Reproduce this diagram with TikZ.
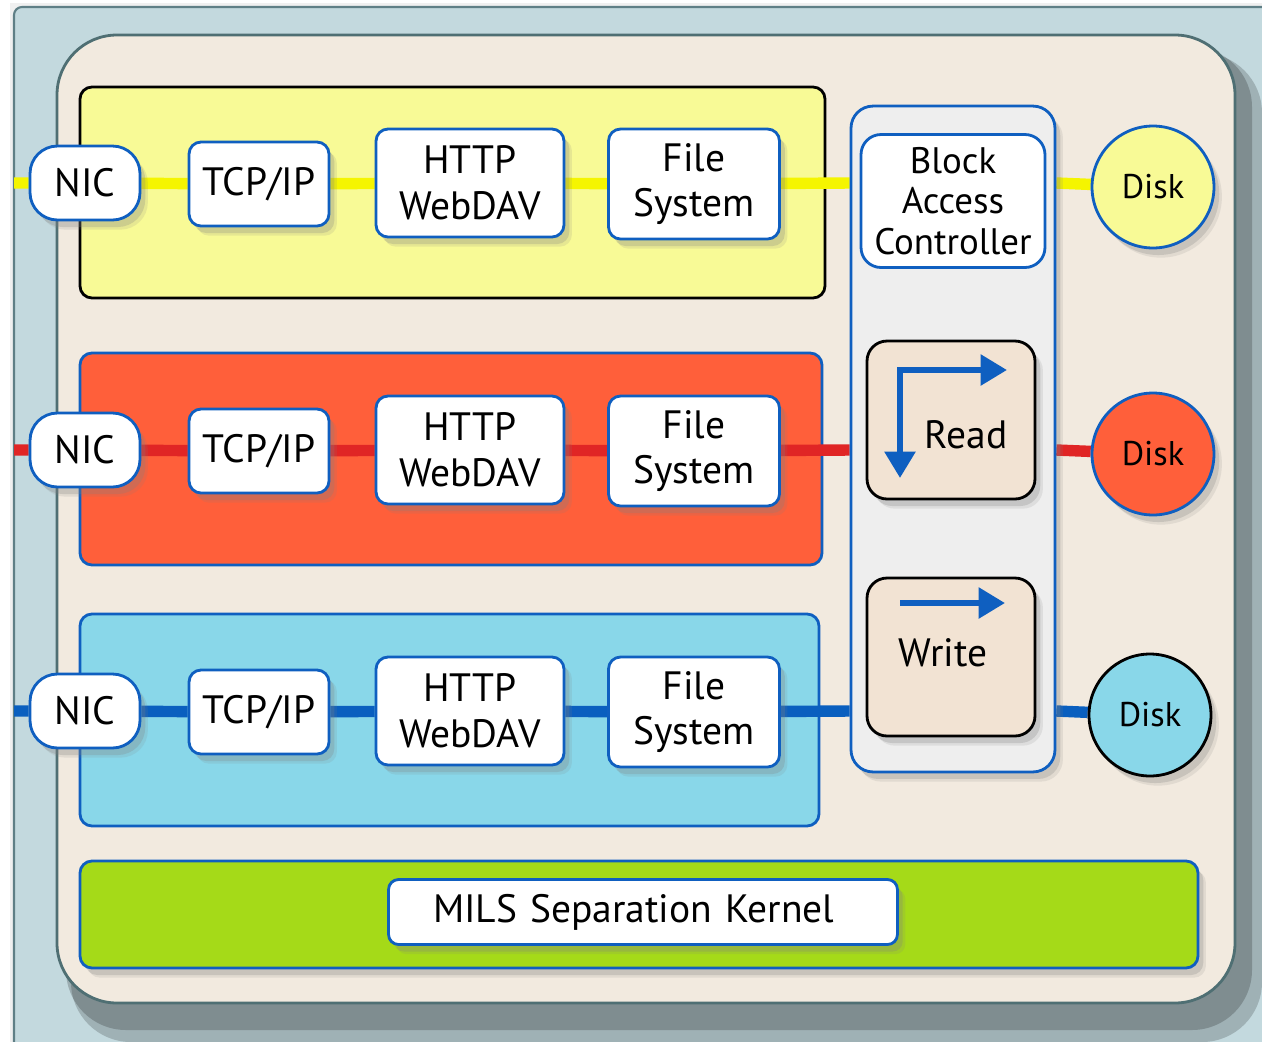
\documentclass[tikz,border=0pt]{standalone}
\usepackage{fontspec}
\setmainfont{PT Sans}
\usetikzlibrary{positioning, shapes, arrows.meta, shadows}

\definecolor{outerfill}{HTML}{C3D9DE}
\definecolor{outeredge}{HTML}{5F7F86}
\definecolor{beige}{HTML}{F2EADF}
\definecolor{beigeedge}{HTML}{4F6F73}
\definecolor{kblue}{HTML}{0F5FC0}
\definecolor{rowyellow}{HTML}{F8FA96}
\definecolor{rowred}{HTML}{FF5F3A}
\definecolor{rowcyan}{HTML}{89D7E9}
\definecolor{rowgreen}{HTML}{A5DA18}
\definecolor{ctrlgray}{HTML}{EEEEEE}
\definecolor{opfill}{HTML}{F2E3D3}
\definecolor{wireyellow}{HTML}{F5F500}
\definecolor{wirered}{HTML}{E02525}
\definecolor{wireblue}{HTML}{0A5FBF}

\pgfdeclarelayer{bg}
\pgfdeclarelayer{wires}
\pgfsetlayers{bg,wires,main}

\tikzset{
    softshadow/.style={
        drop shadow={shadow xshift=4.5pt, shadow yshift=-5.5pt, opacity=0.15},
        drop shadow={shadow xshift=3pt, shadow yshift=-4pt, opacity=0.25}},
    card/.style={draw=kblue, fill=white, line width=1.6pt,
        rounded corners=0.24cm, align=center, inner sep=0pt,
        font=\fontsize{22.5}{26}\selectfont, softshadow},
    nic/.style={card, rounded corners=0.55cm,
        minimum width=2.2cm, minimum height=1.48cm},
    tcp/.style={card, minimum width=2.8cm, minimum height=1.68cm},
    http/.style={card, minimum width=3.76cm, minimum height=2.16cm},
    fsys/.style={card, minimum width=3.42cm, minimum height=2.2cm},
    opbox/.style={draw=black, fill=opfill, line width=1.6pt,
        rounded corners=0.4cm, minimum width=3.36cm, minimum height=3.16cm,
        softshadow},
    disk/.style={circle, draw=kblue, line width=1.6pt, minimum size=2.44cm,
        inner sep=0pt, font=\fontsize{19.5}{22}\selectfont, softshadow},
    rowbox/.style={line width=1.6pt, rounded corners=0.24cm},
    wire/.style={line width=6.5pt},
    optip/.style={draw=kblue, line width=3.4pt,
        arrows={-{Triangle[length=15pt, width=17pt]}}},
}

\begin{document}
\begin{tikzpicture}[x=0.02cm, y=-0.02cm]
    \useasboundingbox (0,0) rectangle (1262,1042);

    \begin{pgfonlayer}{bg}
    \fill[white] (0,0) rectangle (1262,1042);
    \fill[black, opacity=0.06] (10,3) rectangle (1262,1042);
    \draw[fill=outerfill, draw=outeredge, line width=1.2pt,
        rounded corners=0.16cm]
        (14,7) rectangle (1320,1100);
    \fill[black, opacity=0.18, rounded corners=1.2cm]
        (71,53) rectangle (1262,1042);
    \fill[black, opacity=0.2, rounded corners=1.2cm]
        (66,47) rectangle (1252,1030);
    \draw[fill=beige, draw=beigeedge, line width=1.6pt,
        rounded corners=1.2cm]
        (57,35) rectangle (1235,1003);

    % the three partitions and the kernel
    \draw[rowbox, fill=rowyellow, draw=black] (80,87) rectangle (825,298);
    \draw[rowbox, fill=rowred, draw=kblue] (80,353) rectangle (822,565);
    \draw[rowbox, fill=rowcyan, draw=kblue] (80,614) rectangle (819,826);
    \draw[rowbox, fill=rowgreen, draw=kblue, softshadow]
        (80,861) rectangle (1198,968);
    \end{pgfonlayer}

    % block access controller column
    \node[
        draw=kblue,
        fill=ctrlgray,
        line width=1.6pt,
        rounded corners=0.44cm,
        minimum width=4.08cm,
        minimum height=13.32cm,
        softshadow] (ctrl) at (953,439) {};
    \node[draw=kblue, fill=white, line width=1.6pt, rounded corners=0.4cm,
        align=center, inner sep=0pt, font=\fontsize{21}{23}\selectfont,
        minimum width=3.68cm, minimum height=2.66cm] (bac) at (953,201)
        {Block\\Access\\Controller};
    \node[opbox] (read) at (951,420) {};
    \node[font=\fontsize{22.5}{26}\selectfont] (readtxt) at (966,435) {Read};
    \node[opbox] (write) at (951,657) {};
    \node[font=\fontsize{22.5}{26}\selectfont] (writetxt) at (943,653) {Write};

    \draw[optip, arrows={{Triangle[length=15pt, width=17pt]}-{Triangle[length=15pt, width=17pt]}}]
        ([shift={(-51,58)}]read.center) -- ([shift={(-51,-50)}]read.center)
        -- ([shift={(56,-50)}]read.center);
    \draw[optip] ([shift={(-51,-54)}]write.center)
        -- ([shift={(54,-54)}]write.center);

    % partitions
    \foreach \r/\y in {A/183, B/450, C/711}{
        \coordinate (in\r) at (14,\y);
        \node[nic] (nic\r) at (85,\y) {NIC};
        \node[tcp] (tcp\r) at (259,\y+1) {TCP/IP};
        \node[http] (http\r) at (470,\y) {HTTP\\WebDAV};
        \node[fsys] (fs\r) at (694,\y+1) {File\\System};
    }

    \node[disk, fill=rowyellow] (diskA) at (1153,187) {Disk};
    \node[disk, fill=rowred] (diskB) at (1153,454) {Disk};
    \node[disk, fill=rowcyan, draw=black] (diskC) at (1150,715) {Disk};

    \node[card, rounded corners=0.2cm, align=left, text width=8.4cm,
        minimum width=10.18cm, minimum height=1.3cm] (mils) at (643,912)
        {MILS Separation Kernel};

    \begin{pgfonlayer}{wires}
    \draw[wire, wireyellow] (inA) -- (nicA) -- (tcpA) -- (httpA) -- (fsA)
        -- (inA -| ctrl.west);
    \draw[wire, wireyellow] (ctrl.east |- inA) -- (diskA);
    \draw[wire, wirered] (inB) -- (nicB) -- (tcpB) -- (httpB) -- (fsB)
        -- (inB -| ctrl.west);
    \draw[wire, wirered] (ctrl.east |- inB) -- (diskB);
    \draw[wire, wireblue] (inC) -- (nicC) -- (tcpC) -- (httpC) -- (fsC)
        -- (inC -| ctrl.west);
    \draw[wire, wireblue] (ctrl.east |- inC) -- (diskC);
    \end{pgfonlayer}
\end{tikzpicture}
\end{document}
